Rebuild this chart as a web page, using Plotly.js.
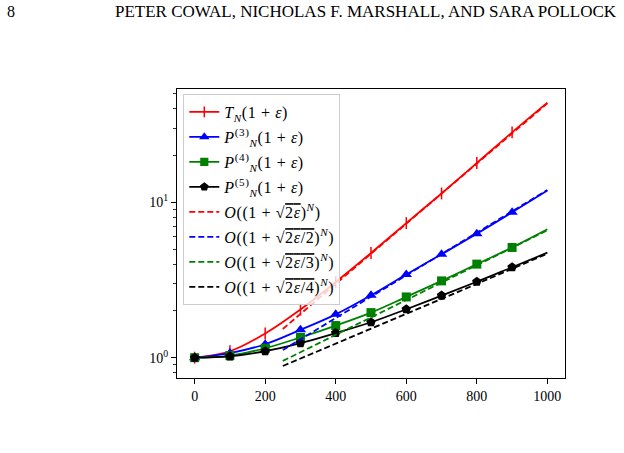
<!DOCTYPE html>
<html>
<head>
<meta charset="utf-8">
<script src="https://cdn.plot.ly/plotly-3.0.1.min.js"></script>
<style>html,body{margin:0;padding:0;background:#fff;}#chart{width:624px;height:453px;}</style>
</head>
<body>
<div id="chart"></div>
<script>
// ---- data ----
const N = [0, 100, 200, 300, 400, 500, 600, 700, 800, 900, 1000];
const T_vals  = [1, 1.10, 1.43, 2.04, 3.07, 4.72, 7.35, 11.4, 17.9, 28.2, 43.8];
const P3_vals = [1, 1.07, 1.22, 1.51, 1.90, 2.52, 3.43, 4.63, 6.28, 8.62, 11.9];
const P4_vals = [1, 1.03, 1.15, 1.35, 1.61, 1.95, 2.46, 3.12, 4.00, 5.12, 6.70];
const P5_vals = [1, 1.02, 1.10, 1.24, 1.44, 1.69, 2.05, 2.51, 3.08, 3.82, 4.74];
const N_asym = [250, 500, 750, 1000];
const O1_vals = [1.53, 4.65, 14.2, 43.3];
const O2_vals = [1.12, 2.47, 5.44, 12.0];
const O3_vals = [0.953, 1.82, 3.46, 6.6];
const O4_vals = [0.884, 1.53, 2.67, 4.67];
const xTicks = [0, 200, 400, 600, 800, 1000];
const yTicks = [1, 10];
const yTickText = ['10<sup>0</sup>', '10<sup>1</sup>'];
const yMinor = [0.8, 0.9, 2, 3, 4, 5, 6, 7, 8, 9, 20, 30, 40, 50];
const names = [
  '<i>T</i><sub><i>N</i></sub>(1 + <i>ε</i>)',
  '<i>P</i><sup>(3)</sup><sub><i>N</i></sub>(1 + <i>ε</i>)',
  '<i>P</i><sup>(4)</sup><sub><i>N</i></sub>(1 + <i>ε</i>)',
  '<i>P</i><sup>(5)</sup><sub><i>N</i></sub>(1 + <i>ε</i>)',
  '<i>O</i>((1 + √<span style="text-decoration:overline">2<i>ε</i></span>)<sup><i>N</i></sup>)',
  '<i>O</i>((1 + √<span style="text-decoration:overline">2<i>ε</i>/2</span>)<sup><i>N</i></sup>)',
  '<i>O</i>((1 + √<span style="text-decoration:overline">2<i>ε</i>/3</span>)<sup><i>N</i></sup>)',
  '<i>O</i>((1 + √<span style="text-decoration:overline">2<i>ε</i>/4</span>)<sup><i>N</i></sup>)'
];

// ---- chart ----
const colors = ['#ff0000', '#0000ff', '#008000', '#000000'];
const symbols = ['line-ns-open', 'triangle-up', 'square', 'pentagon'];
const msz = [8.5, 10, 9, 10];
const solid = [T_vals, P3_vals, P4_vals, P5_vals];
const asym = [O1_vals, O2_vals, O3_vals, O4_vals];
const spaced = s => '<span style="letter-spacing:0.6px">' + s + '</span>';
const traces = [];
solid.forEach((vals, i) => {
  traces.push({
    x: N, y: vals, name: spaced(names[i]), legendgroup: 'g' + i,
    mode: 'lines+markers',
    line: {color: colors[i], width: 1.8, shape: 'spline'},
    marker: {
      color: colors[i], symbol: symbols[i], opacity: 1,
      size: N.map((n, k) => (k === N.length - 1 ? 0 : msz[i])),
      line: {color: colors[i], width: i === 0 ? 1.5 : 0}
    }
  });
});
asym.forEach((vals, i) => {
  traces.push({
    x: N_asym, y: vals, name: spaced(names[4 + i]), legendgroup: 'g' + (4 + i),
    mode: 'lines',
    line: {color: colors[i], width: 1.8, dash: '6px,3px'}
  });
});

const L = 176.7, R = 565, Tp = 89, B = 378;
const W = 624, H = 453;
const px = v => (v - L) / (R - L);
const py = v => (B - v) / (B - Tp);
const serif = 'Liberation Serif, Times New Roman, serif';

const layout = {
  width: W, height: H,
  margin: {l: L, r: W - R, t: Tp, b: H - B, pad: 0},
  paper_bgcolor: '#fff', plot_bgcolor: '#fff',
  font: {family: serif, size: 14, color: '#000'},
  showlegend: true,
  legend: {
    x: px(183), y: py(94), xanchor: 'left', yanchor: 'top',
    bgcolor: 'rgba(255,255,255,0.8)', bordercolor: '#cccccc', borderwidth: 1,
    font: {family: serif, size: 16, color: '#000'},
    traceorder: 'grouped', tracegroupgap: 1.2
  },
  xaxis: {
    range: [-50, 1050], tickvals: xTicks, ticks: 'outside', ticklen: 5, tickwidth: 1,
    tickcolor: '#000', showgrid: false, zeroline: false,
    showline: true, linecolor: '#000', linewidth: 1, mirror: true,
    tickfont: {family: serif, size: 14}
  },
  yaxis: {
    type: 'log', range: [Math.log10(0.74), Math.log10(53.6)],
    tickvals: yTicks, ticktext: yTickText, ticks: 'outside', ticklen: 5, tickwidth: 1,
    tickcolor: '#000', showgrid: false, zeroline: false,
    showline: true, linecolor: '#000', linewidth: 1, mirror: true,
    tickfont: {family: serif, size: 14},
    minor: {tickmode: 'array', tickvals: yMinor, ticks: 'outside', ticklen: 3, tickwidth: 0.8, tickcolor: '#000', showgrid: false}
  },
  annotations: [
    {text: '8', xref: 'paper', yref: 'paper', x: px(5), y: py(12), xanchor: 'left', yanchor: 'middle',
     showarrow: false, font: {family: serif, size: 16, color: '#000'}},
    {text: 'PETER COWAL, NICHOLAS F. MARSHALL, AND SARA POLLOCK', xref: 'paper', yref: 'paper',
     x: px(365.5), y: py(12), xanchor: 'center', yanchor: 'middle',
     showarrow: false, font: {family: serif, size: 17, color: '#000'}}
  ]
};

Plotly.newPlot('chart', traces, layout, {displayModeBar: false, staticPlot: true});
</script>
</body>
</html>
